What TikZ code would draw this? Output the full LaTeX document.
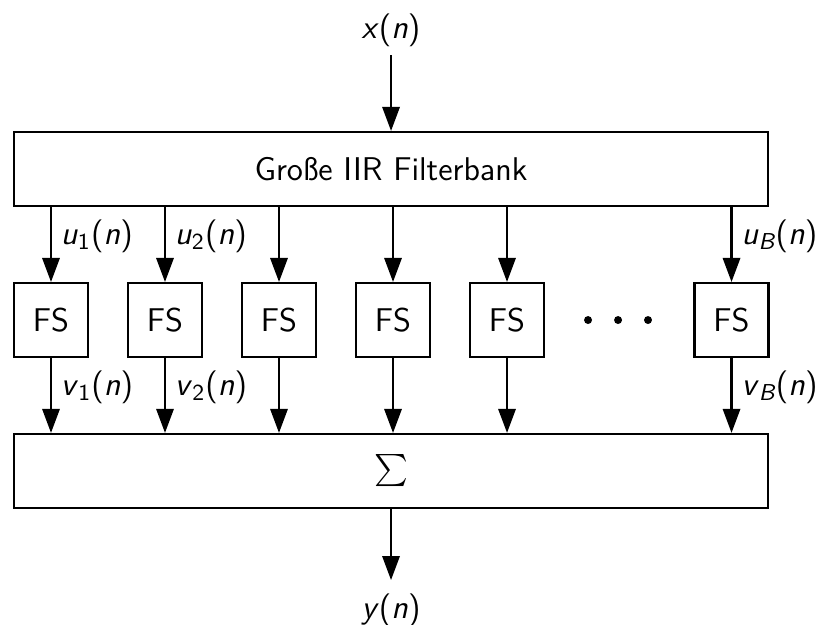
\documentclass[tikz,border=0pt]{standalone}
\usepackage{amsmath}
\usetikzlibrary{arrows.meta}
\renewcommand{\familydefault}{\sfdefault}
\newcommand{\sv}[1]{\textit{#1}}
\newcommand{\sig}[2]{\sv{#1}$_{\text{#2}}$(\sv{n})}

\begin{document}
\begin{tikzpicture}[font=\fontsize{12.3}{14.5}\selectfont,
  blk/.style={draw, line width=0.8pt, minimum width=9.921cm, minimum height=0.974cm, inner sep=0pt},
  fsblk/.style={draw, line width=0.8pt, minimum width=0.974cm, minimum height=0.974cm, inner sep=0pt},
  dot/.style={circle, fill, inner sep=0pt, minimum size=0.105cm},
  arr/.style={line width=0.8pt, -{Triangle[length=9pt, width=6.5pt]}},
  lbl/.style={right, pos=0.39}]
\useasboundingbox (0.000000, 0.000000) rectangle (10.776000, -8.211000);
\node (xin) at (5.145000, -0.395000) {\sv{x}(\sv{n})};
\coordinate (xtip) at (5.145000, -0.724000);
\node[blk] (bank) at (5.145000, -2.224000) {Große IIR Filterbank};
\node[fsblk] (fs1) at (0.671000, -4.211000) {FS};
\node[fsblk] (fs2) at (2.171000, -4.211000) {FS};
\node[fsblk] (fs3) at (3.671000, -4.211000) {FS};
\node[fsblk] (fs4) at (5.171000, -4.211000) {FS};
\node[fsblk] (fs5) at (6.671000, -4.211000) {FS};
\node[dot] (d1) at (7.737000, -4.211000) {};
\node[dot] (d2) at (8.132000, -4.211000) {};
\node[dot] (d3) at (8.526000, -4.211000) {};
\node[fsblk] (fsB) at (9.625000, -4.211000) {FS};
\node[blk] (sum) at (5.145000, -6.197000) {$\sum$};
\coordinate (ytip) at (5.145000, -7.632000);
\node (yout) at (5.145000, -8.030000) {\sv{y}(\sv{n})};
\draw[arr] (xtip) -- (bank);
\draw[arr] (fs1 |- bank.south) -- (fs1) node[lbl] {\sig{u}{1}};
\draw[arr] (fs2 |- bank.south) -- (fs2) node[lbl] {\sig{u}{2}};
\draw[arr] (fs3 |- bank.south) -- (fs3);
\draw[arr] (fs4 |- bank.south) -- (fs4);
\draw[arr] (fs5 |- bank.south) -- (fs5);
\draw[arr] (fsB |- bank.south) -- (fsB) node[lbl] {\sv{u}$_{\textit{B}}$(\sv{n})};
\draw[arr] (fs1) -- (fs1 |- sum.north) node[lbl] {\sig{v}{1}};
\draw[arr] (fs2) -- (fs2 |- sum.north) node[lbl] {\sig{v}{2}};
\draw[arr] (fs3) -- (fs3 |- sum.north);
\draw[arr] (fs4) -- (fs4 |- sum.north);
\draw[arr] (fs5) -- (fs5 |- sum.north);
\draw[arr] (fsB) -- (fsB |- sum.north) node[lbl] {\sv{v}$_{\textit{B}}$(\sv{n})};
\draw[arr] (sum) -- (ytip);

\end{tikzpicture}
\end{document}
